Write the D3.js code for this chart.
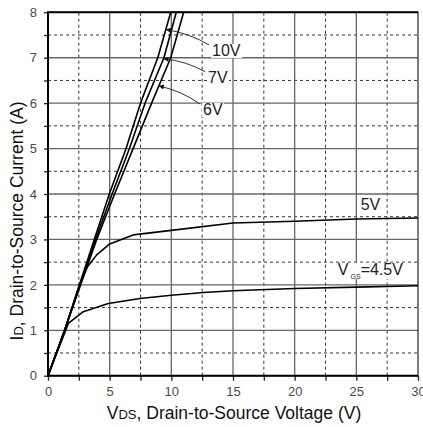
<!DOCTYPE html>
<html>
<head>
<meta charset="utf-8">
<script src="https://cdn.jsdelivr.net/npm/d3@7"></script>
<style>
  html, body { margin: 0; padding: 0; background: #fff; }
  svg { display: block; }
</style>
</head>
<body>
<svg id="chart" width="423" height="427"></svg>
<script>
// Output characteristics: drain current vs drain-source voltage, one curve per gate voltage
const gateLabels = ["10V", "7V", "6V", "5V", "4.5V"];

// [VDS (V), ID (A)] points along each curve
const curve10V = [[0,0],[1.35,1.0],[2.55,2.0],[3.75,3.0],[4.97,4.0],[6.33,5.0],[7.5,6.0],[8.9,7.0],[9.95,8.0]];
const curve7V  = [[0,0],[1.35,1.0],[2.6,2.0],[3.85,3.0],[5.2,4.0],[6.6,5.0],[7.87,6.0],[9.4,7.0],[10.4,8.0]];
const curve6V  = [[0,0],[1.35,1.0],[2.65,2.0],[3.95,3.0],[5.4,4.0],[6.9,5.0],[8.4,6.0],[9.95,7.0],[11.0,8.0]];
const curve5V  = [[0,0],[1.35,1.0],[2.55,2.0],[3.2,2.4],[3.95,2.66],[5.0,2.9],[6.9,3.1],[10,3.2],[15,3.36],[20,3.4],[25,3.45],[30,3.47]];
const curve45V = [[0,0],[1.65,1.15],[2.86,1.41],[4.89,1.59],[7.46,1.7],[10,1.77],[12.6,1.83],[15,1.87],[20,1.92],[25,1.95],[30,1.98]];

const xTicks = [0, 5, 10, 15, 20, 25, 30];
const yTicks = [0, 1, 2, 3, 4, 5, 6, 7, 8];
const xMinor = [2.5, 7.5, 12.5, 17.5, 22.5, 27.5];
const yMinor = [0.5, 1.5, 2.5, 3.5, 4.5, 5.5, 6.5, 7.5];

// Pointer callouts: label anchor (V, I) and the current at which the arrow meets its curve
const calloutText  = ["10V", "7V", "6V"];
const calloutLabel = [[13.3, 7.04], [12.98, 6.45], [12.57, 5.74]];
const calloutHitI  = [7.62, 6.98, 6.38];

const svg = d3.select("#chart");
const m = { left: 48, right: 5, top: 12.3, bottom: 51.3 };
const W = 423, H = 427;

const x = d3.scaleLinear().domain([0, 30]).range([m.left, W - m.right]);
const y = d3.scaleLinear().domain([0, 8]).range([H - m.bottom, m.top]);

const narrow = "'Liberation Sans Narrow', 'Arial Narrow', 'Liberation Sans', Arial, sans-serif";
const sans = "'Liberation Sans', Arial, sans-serif";

// Grid: dashed minor lines, solid major lines
const grid = svg.append("g");
grid.selectAll(".vmin").data(xMinor).join("line")
  .attr("x1", d => x(d)).attr("x2", d => x(d))
  .attr("y1", y(0)).attr("y2", y(8))
  .attr("stroke", "#333").attr("stroke-width", 1).attr("stroke-dasharray", "3,3");
grid.selectAll(".hmin").data(yMinor).join("line")
  .attr("x1", x(0)).attr("x2", x(30))
  .attr("y1", d => y(d)).attr("y2", d => y(d))
  .attr("stroke", "#333").attr("stroke-width", 1).attr("stroke-dasharray", "3,3");
grid.selectAll(".vmaj").data(xTicks.slice(1, -1)).join("line")
  .attr("x1", d => x(d)).attr("x2", d => x(d))
  .attr("y1", y(0)).attr("y2", y(8))
  .attr("stroke", "#666").attr("stroke-width", 1.3);
grid.selectAll(".hmaj").data(yTicks.slice(1, -1)).join("line")
  .attr("x1", x(0)).attr("x2", x(30))
  .attr("y1", d => y(d)).attr("y2", d => y(d))
  .attr("stroke", "#666").attr("stroke-width", 1.3);

// Axes with ticks every 2.5 V and 0.5 A
const xAxis = d3.axisBottom(x).tickValues(d3.range(0, 30.01, 2.5)).tickSize(5).tickPadding(6)
  .tickFormat(d => xTicks.includes(d) ? d : "");
const yAxis = d3.axisLeft(y).tickValues(d3.range(0, 8.01, 0.5)).tickSize(4).tickPadding(7)
  .tickFormat(d => yTicks.includes(d) ? d : "");

const gx = svg.append("g").attr("transform", `translate(0,${y(0)})`).call(xAxis);
const gy = svg.append("g").attr("transform", `translate(${x(0)},0)`).call(yAxis);
[gx, gy].forEach(g => {
  g.select(".domain").remove();
  g.selectAll(".tick line").attr("stroke", "#222").attr("stroke-width", 1.3);
  g.selectAll(".tick text").attr("fill", "#4a4a4a").style("font-family", narrow).style("font-size", "13px");
});

// Plot frame
svg.append("rect").attr("x", x(0)).attr("y", y(8))
  .attr("width", x(30) - x(0)).attr("height", y(0) - y(8))
  .attr("fill", "none").attr("stroke", "#222").attr("stroke-width", 1.2);
svg.append("path")
  .attr("d", `M${x(30)},${y(8)}H${x(0)}V${y(0)}H${x(30)}`)
  .attr("fill", "none").attr("stroke", "#000").attr("stroke-width", 2);

// Curves
const curves = [curve10V, curve7V, curve6V, curve5V, curve45V];
const line = d3.line().x(d => x(d[0])).y(d => y(d[1]));
svg.append("g").selectAll("path").data(curves).join("path")
  .attr("d", line)
  .attr("fill", "none").attr("stroke", "#000").attr("stroke-width", 1.6)
  .attr("stroke-linejoin", "round");

// Helper: voltage on a curve at a given current
function vAt(curve, I) {
  for (let i = 1; i < curve.length; i++) {
    const [v0, i0] = curve[i - 1], [v1, i1] = curve[i];
    if (I >= i0 && I <= i1) return v0 + (v1 - v0) * (I - i0) / (i1 - i0);
  }
  return curve[curve.length - 1][0];
}

// Text labels with white knock-out backgrounds
function label(g, xPos, yPos, build) {
  const grp = g.append("g");
  const bg = grp.append("rect").attr("fill", "#fff");
  const t = grp.append("text").attr("x", xPos).attr("y", yPos)
    .attr("fill", "#222").style("font-family", narrow).style("font-size", "16px");
  build(t);
  const b = t.node().getBBox();
  bg.attr("x", b.x - 1).attr("y", b.y + 2).attr("width", b.width + 2).attr("height", b.height - 3);
  return b;
}

const ann = svg.append("g");
svg.append("defs").append("marker")
  .attr("id", "head").attr("viewBox", "0 0 10 10").attr("refX", 0).attr("refY", 5)
  .attr("markerWidth", 8).attr("markerHeight", 5).attr("orient", "auto")
  .attr("markerUnits", "userSpaceOnUse")
  .append("path").attr("d", "M0,5L10,0L10,10Z").attr("fill", "#111");

calloutText.forEach((txt, k) => {
  const lx = x(calloutLabel[k][0]), ly = y(calloutLabel[k][1]);
  const b = label(ann, lx, ly, t => t.text(txt));
  const tipX = x(vAt(curves[k], calloutHitI[k])), tipY = y(calloutHitI[k]);
  const tailX = b.x - 3, tailY = b.y + 3;
  const cx = (tipX + tailX) / 2 + 2, cy = (tipY + tailY) / 2 - 4;
  ann.insert("path", ":first-child")
    .attr("d", `M${tipX},${tipY}Q${cx},${cy} ${tailX},${tailY}`)
    .attr("fill", "none").attr("stroke", "#333").attr("stroke-width", 1)
    .attr("marker-start", "url(#head)");
});

label(ann, x(25.35), y(3.65), t => t.text(gateLabels[3]));
label(ann, x(23.5), y(2.22), t => {
  t.append("tspan").text("V");
  t.append("tspan").attr("dx", 2).attr("dy", 4).style("font-size", "7px").text("GS");
  t.append("tspan").attr("dy", -4).text("=" + gateLabels[4]);
});

// Axis titles
const xt = svg.append("text")
  .attr("x", (x(0) + x(30)) / 2 + 1).attr("y", 419)
  .attr("text-anchor", "middle").attr("fill", "#111")
  .style("font-family", sans).style("font-size", "17.5px");
xt.append("tspan").text("V");
xt.append("tspan").style("font-size", "13px").text("DS");
xt.append("tspan").text(", Drain-to-Source Voltage (V)");

const yt = svg.append("text")
  .attr("transform", `translate(23,221) rotate(-90)`)
  .attr("text-anchor", "middle").attr("fill", "#111")
  .style("font-family", sans).style("font-size", "17.5px");
yt.append("tspan").text("I");
yt.append("tspan").style("font-size", "13px").text("D");
yt.append("tspan").text(", Drain-to-Source Current (A)");
</script>
</body>
</html>
